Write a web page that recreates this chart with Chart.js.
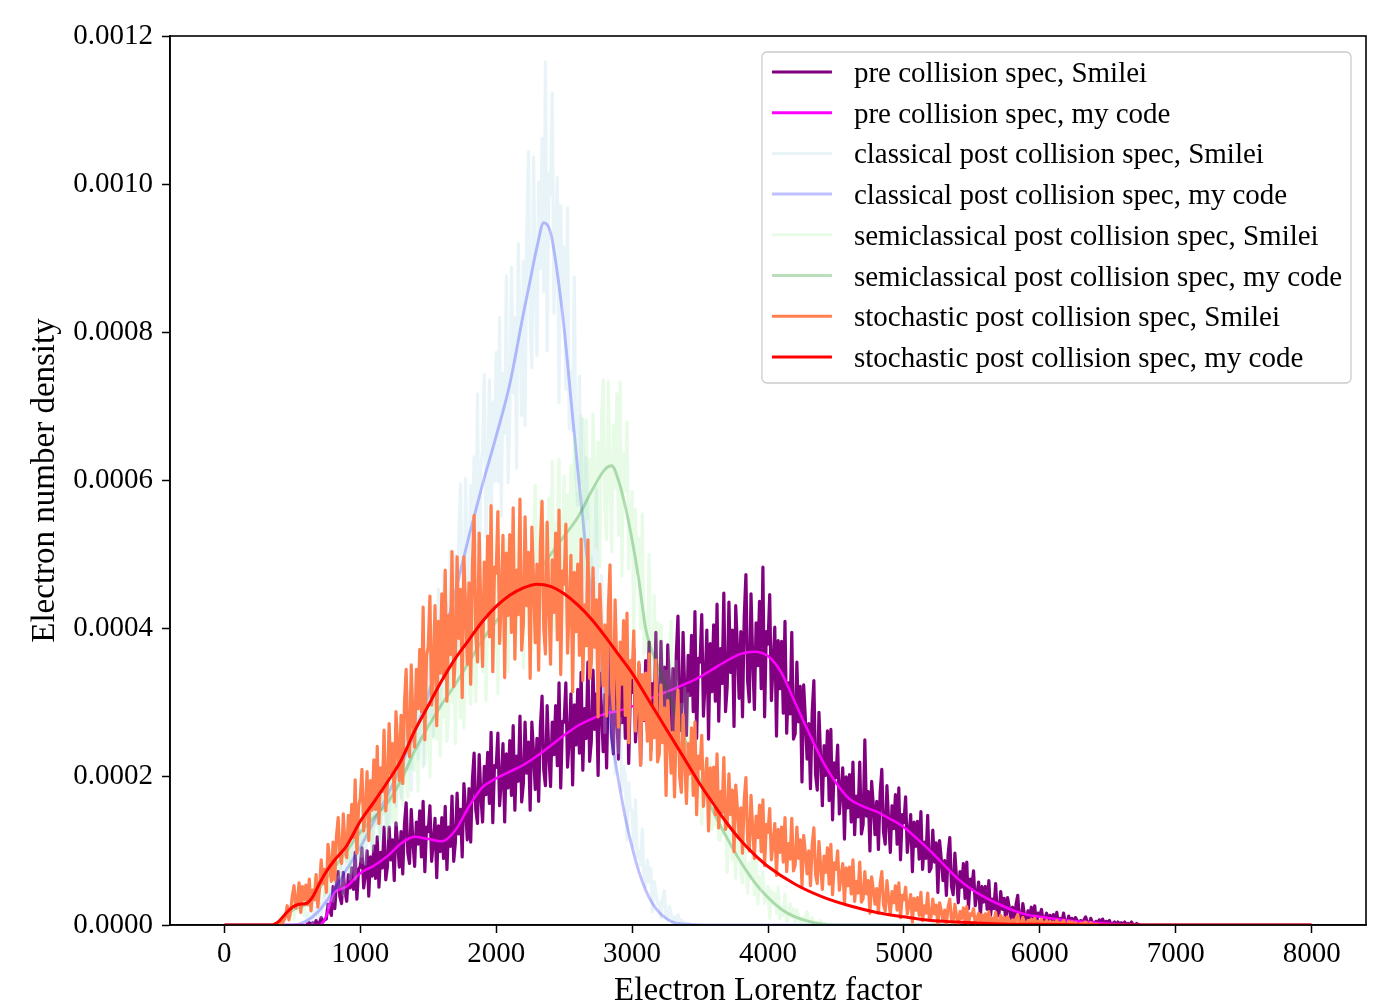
<!DOCTYPE html>
<html>
<head>
<meta charset="utf-8">
<script src="https://cdn.jsdelivr.net/npm/chart.js@4.4.1/dist/chart.umd.min.js"></script>
<style>
  html, body { margin: 0; padding: 0; background: #ffffff; }
  #wrap { width: 1376px; height: 1003px; }
</style>
</head>
<body>
<div id="wrap"><canvas id="chart" width="1376" height="1003"></canvas></div>
<script>
// ---------- DATA (densities typed in units of 1e-6) ----------
const DENSITY_UNIT = 1e-6;

const seriesLabels = [
  "pre collision spec, Smilei",
  "pre collision spec, my code",
  "classical post collision spec, Smilei",
  "classical post collision spec, my code",
  "semiclassical post collision spec, Smilei",
  "semiclassical post collision spec, my code",
  "stochastic post collision spec, Smilei",
  "stochastic post collision spec, my code"
];

const xTickValues = [0, 1000, 2000, 3000, 4000, 5000, 6000, 7000, 8000];
const yTickValues = [0, 0.0002, 0.0004, 0.0006, 0.0008, 0.0010, 0.0012];

// Smilei histograms: regular Lorentz-factor bins
const smileiBinWidth = 12.5;

const preSmileiStart = 600;
const preSmilei = [
  2,0,3,0, 3,1,6,0, 3,10,4,7, 8,28,21,13, 52,22,56,72, 38,29,71,46, 32,68,50,77, 48,98,35,75,
  79,104,50,68, 100,39,92,66, 107,63,119,51, 98,77,132,61, 79,132,88,115, 60,138,111,78,
  126,69,136,165, 97,83,156,112, 79,139,109,154, 92,167,72,132, 126,161,86,111, 144,64,134,99,
  145,90,160,75, 132,106,174,86, 112,178,123,156, 92,191,156,115, 184,112,196,232, 155,137,230,174,
  139,214,176,233, 164,260,138,215, 213,259,161,194, 245,139,231,185, 249,175,269,155, 228,194,282,166,
  191,274,205,247, 155,274,232,183, 252,167,267,309, 209,188,296,231, 187,274,230,296, 215,327,185,275,
  274,327,213,251, 312,189,297,243, 318,232,341,209, 292,252,355,221, 248,344,264,312, 202,340,291,234,
  311,212,327,376, 255,231,354,280, 224,323,273,348, 252,376,218,318, 314,373,247,289, 352,216,335,276,
  357,262,382,236, 326,283,395,249, 278,383,296,348, 228,378,325,263, 346,241,364,417, 288,262,395,315,
  256,364,310,391, 288,423,252,360, 355,419,282,328, 398,251,380,315, 405,302,433,275, 373,326,448,288,
  322,436,341,398, 268,431,374,306, 396,281,415,473, 330,301,447,359, 291,408,350,437, 319,483,281,396,
  379,446,303,351, 402,255,384,319, 383,286,410,259, 327,285,395,251, 258,355,274,322, 193,324,278,224,
  272,184,287,330, 203,182,287,224, 161,242,202,262, 168,264,142,219, 199,243,150,181, 212,116,200,158,
  203,139,220,122, 174,146,220,123, 136,250,147,180, 100,194,161,122, 167,102,178,210, 125,109,188,141,
  98,161,130,176, 109,185,88,149, 138,173,98,123, 149,72,139,106, 140,89,153,75, 112,90,148,72,
  77,128,85,111, 44,114,89,60, 87,40,95,118, 52,41,97,63, 30,72,51,83, 36,85,22,62,
  51,73,26,42, 58,10,52,31, 52,21,60,13, 35,22,56,12, 16,45,21,36, 0,37,24,9,
  24,0,28,40, 8,2,29,13, 0,19,10,24, 5,26,0,16, 12,21,3,9, 16,0,13,6,
  14,3,17,0, 9,4,16,1, 3,12,4,9, 0,10,6,1, 6,0,7,11, 2,0,9,3,
  0,5,2,7, 1,8,0,5, 3,6,0,2, 4,0,4,1, 3,0,4,0, 2,0,4,0, 0,2,0,1
];

const classicalSmileiStart = 600;
const classicalSmilei = [
  4,16,6,12, 3,23,16,8, 29,11,32,41, 29,23,50,34, 32,59,46,65, 51,90,41,72, 86,107,62,77,
  115,62,108,85, 135,93,146,82, 136,115,170,99, 128,183,137,164, 113,198,168,133, 199,133,210,243,
  178,160,250,196, 171,249,210,269, 210,315,182,266, 285,338,224,262, 344,213,328,270, 378,281,404,255,
  377,330,453,292, 351,474,372,433, 318,505,439,362, 500,359,524,595, 453,416,603,491, 434,593,514,632,
  507,717,451,619, 641,743,524,597, 736,493,706,599, 773,599,820,552, 745,663,876,597, 684,888,718,820,
  617,920,813,688, 896,674,933,1044, 809,752,1037,866, 769,1003,886,1062, 855,1165,775,1015, 985,1123,826,925,
  1009,705,971,838, 915,723,968,670, 747,667,875,603, 567,741,596,683, 410,631,553,462, 497,359,520,589,
  352,322,472,382, 260,365,312,392, 234,348,204,295, 233,279,181,214, 203,115,192,154, 155,106,169,92,
  100,81,130,65, 52,88,58,76, 18,59,44,28, 31,10,35,46, 10,7,25,14, 2,11,6,14, 1,7,0,4, 0,2,0,0
];

const semiSmileiStart = 400;
const semiSmilei = [
  1,13,0,7, 16,25,7,13, 34,8,30,19, 38,18,43,13, 37,27,53,19, 34,63,39,54, 29,75,59,40,
  77,41,83,101, 67,57,108,78, 63,108,86,119, 86,146,70,118, 127,157,92,114, 158,84,148,116,
  169,116,183,102, 160,135,200,115, 139,202,150,181, 117,211,178,139, 204,135,216,251, 181,162,254,199,
  173,251,212,271, 209,312,181,264, 274,325,217,253, 320,200,305,253, 337,251,360,228, 321,281,386,248,
  284,385,301,352, 245,393,341,280, 374,266,392,446, 325,298,436,353, 301,415,358,444, 342,489,303,420,
  424,494,344,394, 477,312,456,384, 489,374,521,342, 458,405,544,362, 403,534,425,491, 347,536,469,391,
  503,367,526,593, 435,400,574,469, 399,540,469,576, 446,626,398,542, 543,629,444,506, 606,406,581,494,
  620,479,658,441, 583,518,687,466, 521,682,548,629, 455,690,607,510, 652,483,681,736, 563,520,734,606,
  504,675,590,717, 526,733,471,636, 586,679,481,547, 585,390,561,475, 522,400,555,366, 420,370,500,330,
  332,445,351,408, 254,405,352,290, 343,242,360,410, 261,238,356,285, 209,298,253,320, 209,312,181,264,
  231,276,180,212, 230,136,219,177, 204,145,221,129, 160,135,200,115, 114,169,123,150, 71,144,118,88,
  111,63,119,143, 68,57,113,79, 43,84,63,94, 41,87,28,65, 52,72,29,43, 52,9,47,28,
  43,16,51,8, 24,13,42,5, 8,29,11,22, 0,20,11,2, 10,0,12,18, 1,0,10,3, 0,4,1,6, 0,3,0,1
];

const stochSmileiStart = 350;
const stochSmilei = [
  0,0,2,0, 0,5,2,6, 11,26,7,19, 39,53,23,33, 57,17,52,34, 54,27,62,19, 47,34,68,24,
  49,88,56,75, 44,109,86,59, 112,61,120,145, 96,83,150,110, 91,148,119,163, 118,196,97,160,
  171,210,127,155, 207,114,195,155, 223,156,241,137, 212,180,263,154, 191,272,204,245, 166,288,245,195,
  283,191,299,345, 252,227,351,277, 240,345,292,372, 288,429,250,363, 376,444,297,346, 431,269,410,340,
  447,333,479,302, 418,365,504,322, 365,497,387,453, 307,497,430,352, 462,325,485,553, 390,355,529,424,
  349,490,420,525, 389,566,342,483, 475,558,380,439, 526,334,502,418, 527,395,563,359, 479,419,575,371,
  407,551,431,503, 333,537,465,381, 487,344,511,572, 401,366,544,437, 352,493,422,529, 385,560,338,478,
  460,541,367,425, 499,315,476,396, 487,364,521,330, 432,377,520,333, 353,482,375,439, 281,460,397,323,
  405,282,425,486, 320,291,439,350, 267,382,325,411, 283,421,246,357, 334,397,262,307, 355,216,338,277,
  340,248,366,223, 293,253,358,220, 231,324,246,293, 175,303,258,205, 260,173,274,317, 200,179,284,221,
  164,245,204,266, 175,274,149,228, 211,256,160,192, 225,127,212,170, 213,149,231,131, 180,152,226,129,
  138,204,149,182, 99,189,157,120, 158,97,169,199, 115,100,175,130, 90,147,118,162, 99,169,80,136,
  125,157,88,111, 137,67,129,98, 132,85,145,72, 110,89,144,73, 81,132,90,115, 53,121,97,69,
  100,53,108,131, 68,56,113,79, 48,93,71,104, 55,109,41,84, 75,100,47,65, 83,29,77,53,
  78,42,88,32, 59,43,85,31, 36,72,42,60, 16,65,48,28, 49,16,55,72, 27,19,60,35,
  14,45,30,53, 20,57,10,40, 34,51,15,27, 41,4,36,20, 37,13,44,6, 26,16,43,7,
  11,35,15,27, 0,30,19,6, 20,0,24,35, 7,2,28,12, 0,18,9,23, 4,25,0,15,
  13,22,2,9, 16,0,14,5, 15,3,18,0, 9,4,17,0, 2,13,4,10, 0,11,6,0,
  7,0,9,14, 1,0,10,3, 0,6,3,8, 0,9,0,5, 4,8,0,3, 6,0,5,2,
  4,0,6,0, 3,1,6,0, 0,5,1,4, 0,3,1,0, 2,0,3,4, 0,0,3,1, 0,1,0,1
];

// "my code" spectra (smooth curves)
const preMyGamma = [0,600,700,750,800,850,900,
  1000,1100,1200,1300,1400,1500,1600,1700,1800,1900,
  2000,2100,2200,2300,2400,2500,2600,2700,2800,2900,
  3000,3100,3200,3300,3400,3500,3600,3700,3800,3900,
  4000,4100,4200,4300,4400,4500,4600,4700,4800,4900,
  5000,5100,5200,5300,5400,5500,5600,5700,5800,5900,
  6000,6200,6400,6600,6800,7000,8000];
const preMyDensity = [0,0,0,12,42,48,52,
  70,80,93,110,119,116,113,128,160,186,
  198,207,216,228,242,256,269,278,285,289,
  295,303,311,318,326,335,346,357,366,369,
  363,340,300,260,222,192,170,160,153,143,
  132,116,99,80,62,48,37,28,20,14,
  11,6,3,1,0,0,0];

const classicalMyGamma = [0,500,
  600,700,800,900,1000,1100,1200,1300,1400,1500,1600,1700,1800,1900,2000,2100,2200,
  2250,2300,2350,2400,2450,2500,2550,2600,2650,2700,2750,2800,2850,2900,2950,3000,3050,3100,3150,3200,3250,3300,
  3400,3600,8000];
const classicalMyDensity = [0,0,
  5,20,45,75,105,140,175,215,260,310,380,450,525,595,660,730,825,
  870,915,948,935,880,805,710,615,525,445,375,310,250,195,145,105,72,47,29,17,9,4,
  1,0,0];

const semiMyGamma = [0,350,400,
  500,600,700,800,900,1000,1100,1200,1300,1400,1500,1600,1700,1800,1900,2000,2100,2200,2300,2400,2500,2600,2700,2800,
  2850,2900,2950,3000,3050,3100,
  3200,3300,3400,3500,3600,3700,3800,3900,4000,4100,4200,4300,4400,4500,
  8000];
const semiMyDensity = [0,0,3,
  20,28,50,75,100,125,145,165,195,235,268,298,325,355,385,410,432,452,475,500,525,550,585,615,
  620,600,565,520,465,400,
  345,295,245,195,152,117,85,58,37,21,11,5,1,0,
  0];

const stochMyGamma = [0,300,350,400,450,500,550,600,650,700,750,800,
  900,1000,1100,1200,1300,1400,1500,1600,1700,1800,1900,2000,2100,2200,2300,2400,2500,2600,2700,2800,
  2900,3000,3100,3200,3300,3400,3500,3600,3700,3800,3900,4000,
  4200,4400,4600,4800,5000,5200,5400,5600,5800,6000,
  6500,7000,8000];
const stochMyDensity = [0,0,0,5,15,24,28,29,38,56,72,85,
  107,140,166,193,222,262,296,330,360,385,410,430,445,455,460,457,447,432,413,390,
  365,340,310,280,250,220,190,163,137,114,95,79,
  55,38,26,17,11,6,4,2,1,1,
  0,0,0];

// ---------- BUILD ----------
function binned(start, values) {
  return values.map((v, i) => ({ x: start + i * smileiBinWidth, y: v * DENSITY_UNIT }));
}
function paired(gammas, values) {
  return gammas.map((g, i) => ({ x: g, y: values[i] * DENSITY_UNIT }));
}

const colors = [
  "#800080",
  "#ff00ff",
  "rgba(173,216,230,0.28)",
  "rgba(0,0,255,0.25)",
  "rgba(144,238,144,0.22)",
  "rgba(0,128,0,0.27)",
  "#ff7f50",
  "#ff0000"
];

const seriesData = [
  binned(preSmileiStart, preSmilei),
  paired(preMyGamma, preMyDensity),
  binned(classicalSmileiStart, classicalSmilei),
  paired(classicalMyGamma, classicalMyDensity),
  binned(semiSmileiStart, semiSmilei),
  paired(semiMyGamma, semiMyDensity),
  binned(stochSmileiStart, stochSmilei),
  paired(stochMyGamma, stochMyDensity)
];

const widths = [3.2, 2.5, 3.2, 2.9, 3.2, 2.9, 3.2, 3.0];

const datasets = seriesData.map((data, i) => {
  const smooth = (i % 2 === 1);
  return {
    label: seriesLabels[i],
    data: data,
    borderColor: colors[i],
    backgroundColor: colors[i],
    borderWidth: widths[i],
    pointRadius: 0,
    fill: false,
    tension: 0,
    cubicInterpolationMode: smooth ? "monotone" : "default",
    borderJoinStyle: "round",
    order: -i
  };
});

const FONT = "'Liberation Serif', 'Times New Roman', serif";

const framePlugin = {
  id: "frame",
  afterDatasetsDraw(chart) {
    const { ctx, chartArea: a } = chart;
    ctx.save();
    ctx.strokeStyle = "#000";
    ctx.lineWidth = 1.6;
    ctx.strokeRect(a.left, a.top, a.right - a.left, a.bottom - a.top);
    ctx.restore();
  }
};

const legendPlugin = {
  id: "boxLegend",
  afterDraw(chart) {
    const { ctx, chartArea: a } = chart;
    ctx.save();
    ctx.font = "29px " + FONT;
    const ds = chart.data.datasets;
    const maxW = Math.max(...ds.map(d => ctx.measureText(d.label).width));
    const w = 10 + 60 + 22 + maxW + 9;
    const h = 331;
    const x0 = a.right - 15 - w;
    const y0 = a.top + 16;
    ctx.beginPath();
    ctx.roundRect(x0, y0, w, h, 5);
    ctx.fillStyle = "rgba(255,255,255,0.8)";
    ctx.fill();
    ctx.strokeStyle = "#cccccc";
    ctx.lineWidth = 1.3;
    ctx.stroke();
    ds.forEach((d, i) => {
      const y = y0 + 20 + i * 40.7;
      ctx.strokeStyle = d.borderColor;
      ctx.lineWidth = 3;
      ctx.beginPath();
      ctx.moveTo(x0 + 10, y);
      ctx.lineTo(x0 + 70, y);
      ctx.stroke();
      ctx.fillStyle = "#000";
      ctx.textBaseline = "alphabetic";
      ctx.textAlign = "left";
      ctx.fillText(d.label, x0 + 92, y + 10);
    });
    ctx.restore();
  }
};

new Chart(document.getElementById("chart"), {
  type: "line",
  data: { datasets },
  options: {
    responsive: false,
    animation: false,
    devicePixelRatio: 1,
    events: [],
    layout: { padding: { top: 36, right: 10, left: 0, bottom: 0 } },
    plugins: { legend: { display: false }, tooltip: { enabled: false } },
    scales: {
      x: {
        type: "linear",
        min: -400,
        max: 8400,
        afterBuildTicks: s => { s.ticks = xTickValues.map(v => ({ value: v })); },
        afterFit: s => { s.height = 78; },
        grid: { display: true, drawOnChartArea: false, drawTicks: true, tickLength: 8, tickWidth: 1.5, tickColor: "#000" },
        border: { display: true, color: "#000", width: 1.6 },
        ticks: {
          autoSkip: false, maxRotation: 0, padding: 4, color: "#000",
          font: { family: FONT, size: 29 },
          callback: v => String(v)
        },
        title: {
          display: true, text: "Electron Lorentz factor", color: "#000",
          font: { family: FONT, size: 33, lineHeight: 0.7 },
          padding: { top: 0, bottom: 0 }
        }
      },
      y: {
        type: "linear",
        min: 0,
        max: 0.0012,
        afterBuildTicks: s => { s.ticks = yTickValues.map(v => ({ value: v })); },
        afterFit: s => { s.width = 170; },
        grid: { display: true, drawOnChartArea: false, drawTicks: true, tickLength: 8, tickWidth: 1.5, tickColor: "#000" },
        border: { display: true, color: "#000", width: 1.6 },
        ticks: {
          padding: 9, color: "#000",
          font: { family: FONT, size: 29 },
          callback: v => Number(v).toFixed(4)
        },
        title: {
          display: true, text: "Electron number density", color: "#000",
          font: { family: FONT, size: 33, lineHeight: 0.7 },
          padding: { top: 34, bottom: 0 }
        }
      }
    }
  },
  plugins: [framePlugin, legendPlugin]
});
</script>
</body>
</html>
